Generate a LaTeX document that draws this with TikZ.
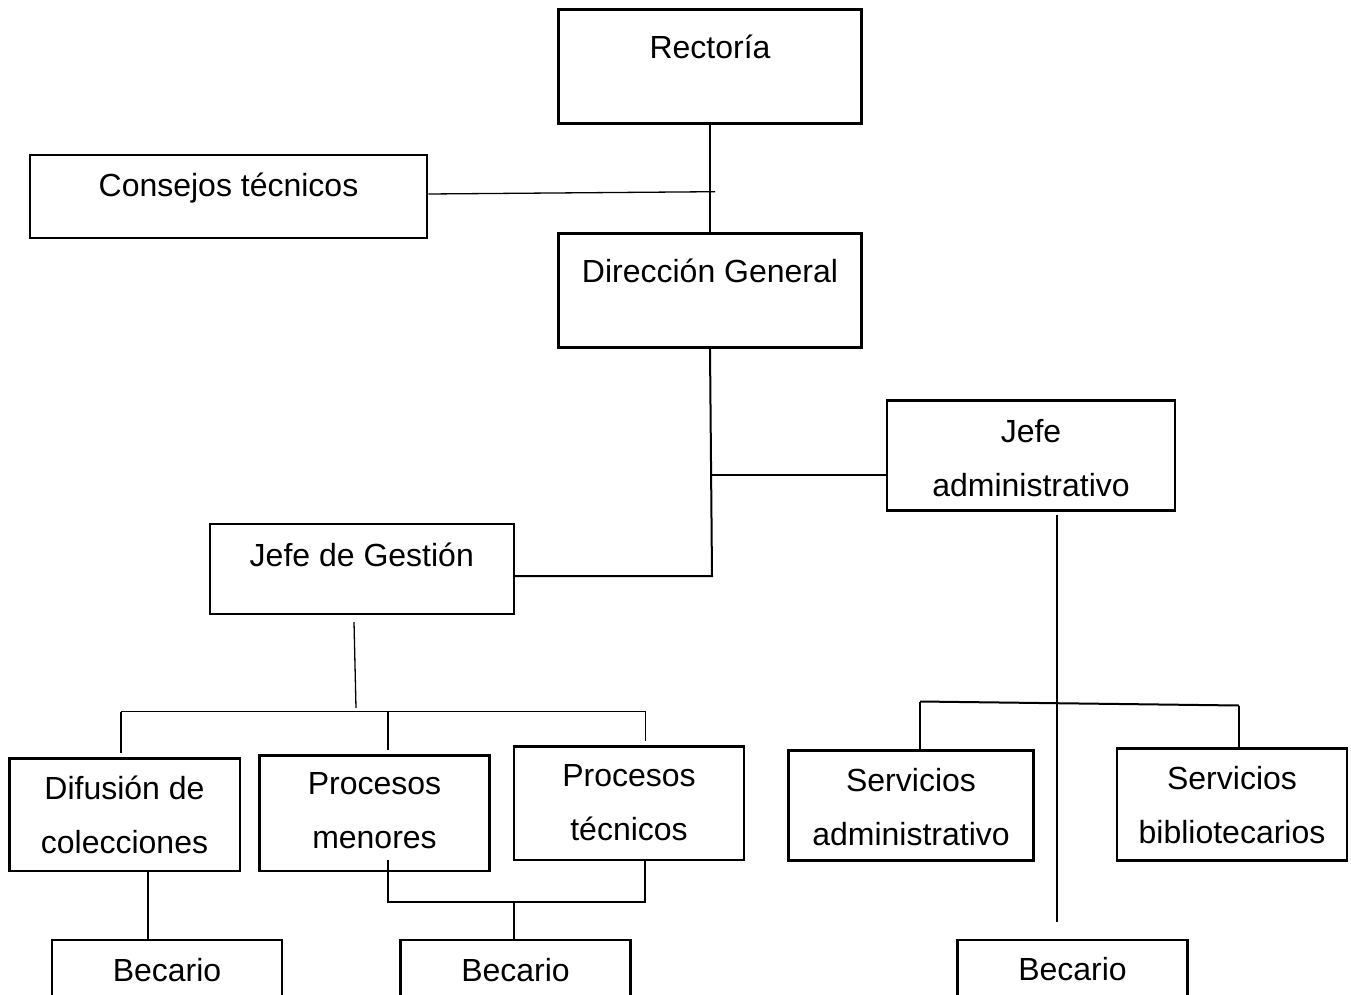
\documentclass[tikz,border=0pt]{standalone}
\usepackage{fontspec}
\setmainfont{Liberation Sans}
\usetikzlibrary{calc}
\begin{document}
\begin{tikzpicture}[x=1pt, y=-1pt,
    box/.style={draw, line width=2.6pt, inner sep=0pt},
    txt/.style={anchor=north, align=center, inner sep=0pt, font=\fontsize{32}{54}\selectfont},
    link/.style={line width=2pt},
    fine/.style={line width=1.3pt}]
    \useasboundingbox (0,0) rectangle (1351,995);
    \node[box, minimum width=303pt, minimum height=114pt, label={[txt,yshift=-26.5pt]north:Rectoría}] (rect) at (710,66.5) {};
    \node[box, minimum width=397pt, minimum height=83pt, label={[txt,yshift=-19.5pt]north:Consejos técnicos}] (cons) at (228.5,196.5) {};
    \node[box, minimum width=303pt, minimum height=114pt, label={[txt,yshift=-27pt]north:Dirección General}] (dir) at (710,290.5) {};
    \node[box, minimum width=288pt, minimum height=110pt, label={[txt,yshift=-20.2pt]north:Jefe\\administrativo}] (jadm) at (1031,455.5) {};
    \node[box, minimum width=304pt, minimum height=90pt, label={[txt,yshift=-20.2pt]north:Jefe de Gestión}] (jges) at (361.8,569) {};
    \node[box, minimum width=230.6pt, minimum height=112.6pt, label={[txt,yshift=-18.2pt]north:Difusión de\\colecciones}] (dif) at (124.5,814.7) {};
    \node[box, minimum width=229.6pt, minimum height=115.3pt, label={[txt,yshift=-18pt]north:Procesos\\menores}] (pmen) at (374.5,813.3) {};
    \node[box, minimum width=230pt, minimum height=113.3pt, label={[txt,yshift=-19.2pt]north:Procesos\\técnicos}] (ptec) at (629,803.3) {};
    \node[box, minimum width=245pt, minimum height=110pt, label={[txt,yshift=-19pt]north:Servicios\\administrativo}] (sadm) at (911,805.5) {};
    \node[box, minimum width=230pt, minimum height=112pt, label={[txt,yshift=-19pt]north:Servicios\\bibliotecarios}] (sbib) at (1232,804.5) {};
    \node[box, minimum width=230pt, minimum height=100pt, label={[txt,yshift=-19.2pt]north:Becario}] (bec1) at (167,990) {};
    \node[box, minimum width=230pt, minimum height=100pt, label={[txt,yshift=-19.2pt]north:Becario}] (bec2) at (515.5,990) {};
    \node[box, minimum width=230pt, minimum height=100pt, label={[txt,yshift=-18pt]north:Becario}] (bec3) at (1072.5,990) {};

    \draw[link] (rect.south) -- (dir.north);
    \coordinate (cjoin) at (715,191.7);
    \draw[fine] ([yshift=2.5pt]cons.east) -- (cjoin);

    \coordinate (dbranch) at (711.5,474.5);
    \coordinate (dturn) at (712,576);
    \draw[link] (dir.south) -- (dturn) -- (dturn -| jges.east);
    \draw[link] (dbranch) -- (dbranch -| jadm.west);

    \coordinate (gstem) at (354,622);
    \coordinate (gjoin) at (356,708);
    \draw[fine] (gstem) -- (gjoin);
    \coordinate (gbarL) at (121,711.5);
    \coordinate (gbarM) at (388,711.5);
    \coordinate (gbarR) at (645.5,711.5);
    \draw[fine] (gbarL) -- (gbarR);
    \foreach \c/\b in {gbarL/dif, gbarM/pmen, gbarR/ptec}
        \draw[fine] (\c) -- ($(\c |- \b.north)+(0,-4)$);

    \coordinate (dcol) at (148,0);
    \draw[link] (dif.south -| dcol) -- (bec1.north -| dcol);

    \coordinate (pTop) at (388,860);
    \coordinate (pL) at (388,902);
    \coordinate (pM) at (513.5,902);
    \coordinate (pR) at (645,902);
    \draw[link] (pTop) -- (pL) -- (pR) -- (pR |- ptec.south);
    \draw[link] (pM) -- (pM |- bec2.north);

    \coordinate (aTop) at (1057,515);
    \coordinate (aBot) at (1057,922);
    \draw[link] (aTop) -- (aBot);
    \coordinate (sL) at (920,701.5);
    \coordinate (sR) at (1239,705.5);
    \draw[link] (sL) -- (sR);
    \draw[link] (sL) -- (sL |- sadm.north);
    \draw[link] (sR) -- (sR |- sbib.north);
\end{tikzpicture}
\end{document}
